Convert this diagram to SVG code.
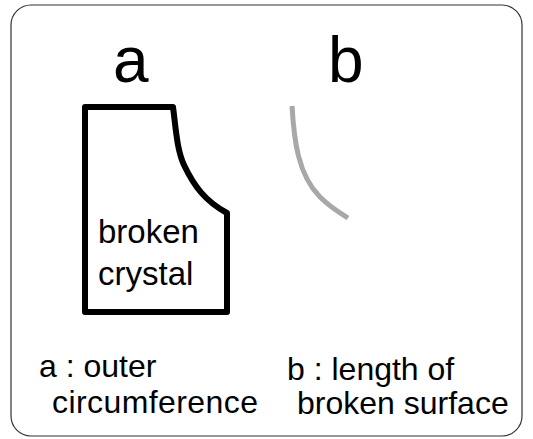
<svg xmlns="http://www.w3.org/2000/svg" width="533" height="439" viewBox="0 0 533 439">
<style>
text{font-family:"Liberation Sans",Arial,sans-serif;fill:#000}
.big{font-size:64px}
.mid{font-size:33px}
.lab{font-size:32px}
</style>
<rect x="0" y="0" width="533" height="439" fill="#fff"/>
<rect id="frame" x="11" y="5" width="511" height="431" rx="20" ry="20" fill="none" stroke="#333" stroke-width="1.2"/>
<g id="label-a"><text class="big" x="113" y="82">a</text></g>
<g id="label-b"><text class="big" x="328" y="82">b</text></g>
<g id="crystal">
<path d="M85,107 L173,107 C176,130 177,150 184,165 C194,186 205,201 227,213 L227,312 L85,312 Z" fill="none" stroke="#000" stroke-width="6" stroke-linejoin="round"/>
<text class="mid" x="98" y="243">broken</text>
<text class="mid" x="98" y="285">crystal</text>
</g>
<g id="surface">
<path d="M292,106 C294,140 298,175 320,197 C330,207 340,213 348,218" fill="none" stroke="#a8a8a8" stroke-width="5"/>
</g>
<g id="caption-a">
<text class="lab" x="39" y="377">a : outer</text>
<text class="lab" x="52" y="413" textLength="206">circumference</text>
</g>
<g id="caption-b">
<text class="lab" x="287" y="380" font-size="31">b : length of</text>
<text class="lab" x="297" y="414">broken surface</text>
</g>
</svg>
